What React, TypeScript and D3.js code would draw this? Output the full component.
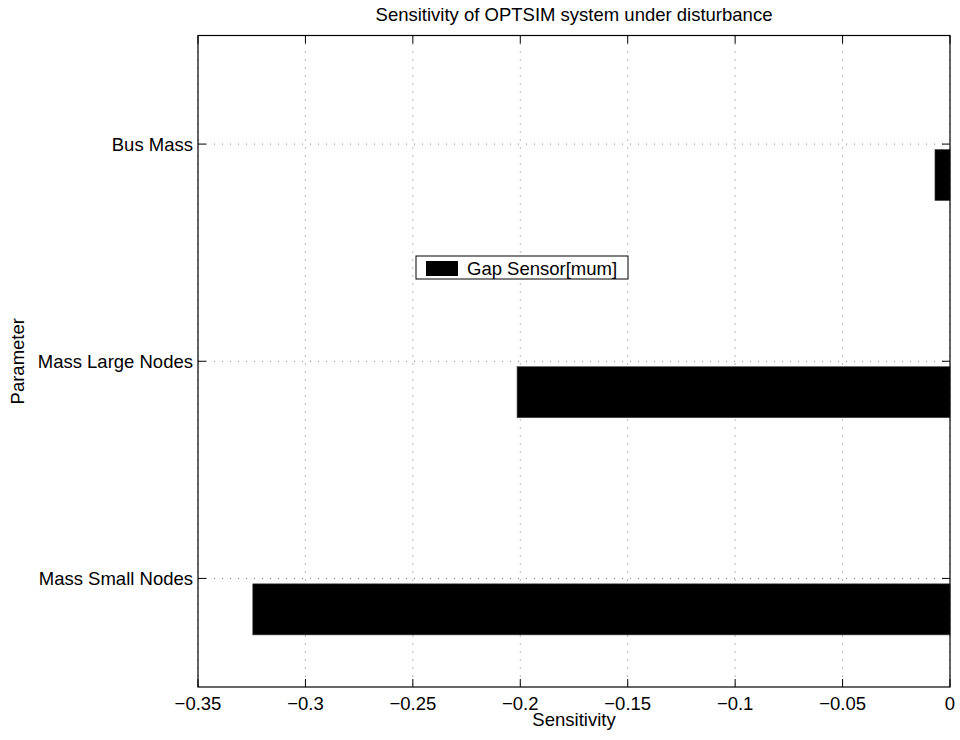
import React from "react";
import * as d3 from "d3";

const categories = ["Mass Small Nodes", "Mass Large Nodes", "Bus Mass"];
const sensitivity = [-0.3245, -0.2015, -0.007];
const seriesName = "Gap Sensor[mum]";
const titleText = "Sensitivity of OPTSIM system under disturbance";
const xLabel = "Sensitivity";
const yLabel = "Parameter";
const xDomain = [-0.35, 0];

const W = 960;
const H = 740;
const M = { left: 198, right: 950, top: 35.5, bottom: 687 };
const FONT = "Liberation Sans, Arial, Helvetica, sans-serif";
const FS = 18.5;

export default function App() {
  const x = d3.scaleLinear().domain(xDomain).range([M.left, M.right]);
  const y = d3.scaleLinear().domain([0.5, categories.length + 0.5]).range([M.bottom, M.top]);
  const xTicks = x.ticks(7);
  const fmt = d3.format("");
  const barTop = -0.025;
  const barBottom = -0.26;
  const tickLen = 8;

  return (
    <svg
      width={W}
      height={H}
      style={{ position: "absolute", left: 0, top: 0, background: "#fff" }}
      fontFamily={FONT}
    >
      <rect x={0} y={0} width={W} height={H} fill="#fff" />
      {xTicks.map((t, i) => (
        <line
          key={"gx" + i}
          x1={x(t)}
          x2={x(t)}
          y1={M.top}
          y2={M.bottom}
          stroke="#777"
          strokeWidth={1}
          strokeDasharray="1 7"
        />
      ))}
      {categories.map((c, i) => (
        <line
          key={"gy" + i}
          x1={M.left}
          x2={M.right}
          y1={y(i + 1)}
          y2={y(i + 1)}
          stroke="#777"
          strokeWidth={1}
          strokeDasharray="1 7"
        />
      ))}
      {categories.map((c, i) => {
        const v = sensitivity[i];
        const x0 = x(Math.min(0, v));
        const x1 = x(Math.max(0, v));
        const y0 = y(i + 1 + barTop);
        const y1 = y(i + 1 + barBottom);
        return (
          <rect
            key={"b" + i}
            x={x0}
            y={y0}
            width={x1 - x0}
            height={y1 - y0}
            fill="#000"
            stroke="#444"
            strokeWidth={0.6}
          />
        );
      })}
      <rect
        x={M.left}
        y={M.top}
        width={M.right - M.left}
        height={M.bottom - M.top}
        fill="none"
        stroke="#000"
        strokeWidth={1.2}
      />
      {xTicks.map((t, i) => (
        <g key={"xt" + i}>
          <line x1={x(t)} x2={x(t)} y1={M.bottom} y2={M.bottom - tickLen} stroke="#000" />
          <line x1={x(t)} x2={x(t)} y1={M.top} y2={M.top + tickLen} stroke="#000" />
          <text x={x(t)} y={710} textAnchor="middle" fontSize={FS} fill="#000">
            {fmt(t)}
          </text>
        </g>
      ))}
      {categories.map((c, i) => (
        <g key={"yt" + i}>
          <line x1={M.left} x2={M.left + tickLen} y1={y(i + 1)} y2={y(i + 1)} stroke="#000" />
          <line x1={M.right} x2={M.right - tickLen} y1={y(i + 1)} y2={y(i + 1)} stroke="#000" />
          <text
            x={M.left - 5}
            y={y(i + 1)}
            dy="0.35em"
            textAnchor="end"
            fontSize={FS}
            fill="#000"
          >
            {c}
          </text>
        </g>
      ))}
      <rect x={416} y={256} width={212} height={23} fill="#fff" stroke="#000" strokeWidth={1} />
      <rect x={426} y={261} width={32} height={15} fill="#000" />
      <text x={467} y={274.5} fontSize={FS} fill="#000">
        {seriesName}
      </text>
      <text x={(M.left + M.right) / 2} y={21} textAnchor="middle" fontSize={FS} fill="#000">
        {titleText}
      </text>
      <text x={(M.left + M.right) / 2} y={726} textAnchor="middle" fontSize={FS} fill="#000">
        {xLabel}
      </text>
      <text
        transform={`translate(24, ${(M.top + M.bottom) / 2}) rotate(-90)`}
        textAnchor="middle"
        fontSize={FS}
        fill="#000"
      >
        {yLabel}
      </text>
    </svg>
  );
}
